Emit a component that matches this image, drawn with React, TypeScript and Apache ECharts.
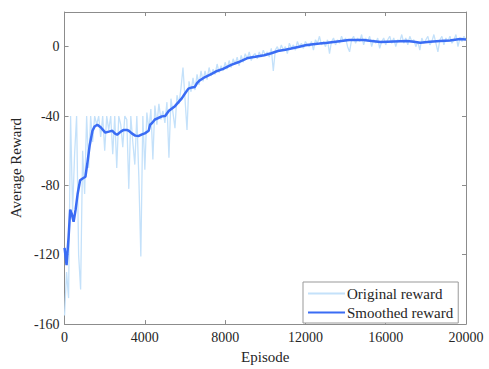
import React, { useEffect, useRef } from "react";
import * as echarts from "echarts";

const RAW_STEP = 100;
const rawReward = [
  -155, -130, -145, -40, -95, -62, -40, -120, -140, -60,
  -85, -40, -70, -40, -55, -40, -45, -40, -52, -40,
  -60, -40, -48, -40, -62, -40, -70, -40, -45, -58,
  -40, -42, -82, -40, -55, -68, -40, -75, -121, -40,
  -71, -38, -48, -36, -65, -34, -45, -33, -42, -37,
  -44, -32, -64, -30, -38, -47, -28, -33, -24, -12,
  -30, -48, -20, -26, -18, -25, -16, -22, -14, -20,
  -14, -19, -12, -17, -13, -16, -10, -15, -11, -14,
  -9, -13, -8, -12, -7, -10, -6, -11, -5, -9,
  -4, -7, -3, -8, -5, -4, -7, -3, -6, -2,
  -5, -3, -6, -1, -14, -2, 0, -3, 1, -2,
  0, -4, 2, -1, 1, -2, 3, 0, 2, -1,
  3, 1, 0, 3, -2, 4, 2, 6, 1, 3,
  0, 4, -4, 3, 5, 1, 4, 2, 6, 3,
  5, 0, -3, 4, 6, 2, 5, 3, 7, 1,
  5, 3, 6, 0, 4, 2, 5, -1, 3, 5,
  1, 4, 6, 2, 5, 0, 4, 3, 7, 2,
  5, 1, 6, 3, 4, 0, 3, -2, 5, 2,
  4, 6, 1, 3, 7, 2, -3, 4, 6, 1,
  5, 3, 6, 2, 4, 7, 0, 5, 3, 6,
  4,
];

const smoothEpisodes = [
  0, 100, 200, 280, 350, 450, 550, 650, 775, 900,
  1040, 1150, 1250, 1390, 1500, 1630, 1800, 2030, 2200, 2380,
  2500, 2620, 2800, 2950, 3100, 3200, 3350, 3520, 3700, 3860,
  4000, 4190, 4260, 4360, 4500, 4690, 4850, 5010, 5200, 5500,
  5840, 6000, 6170, 6350, 6490, 6600, 6730, 7000, 7330, 7600,
  7900, 8300, 8650, 9140, 9500, 9950, 10300, 10630, 11000, 11290,
  11700, 12000, 12280, 12700, 13100, 13600, 14170, 14900, 15300, 15740,
  16400, 17060, 17400, 17720, 18200, 18710, 19200, 19700, 20000,
];
const smoothReward = [
  -116, -126, -110, -94, -96, -101, -94, -85, -77, -76,
  -75, -66, -57, -48.5, -46, -45, -46.5, -49.6, -49, -48.5,
  -50, -50.8, -49, -48, -48, -48.5, -50, -51.3, -51.5, -50.6,
  -50, -48.5, -45, -44, -42, -41, -40.2, -40, -37, -34.3,
  -29.8, -27, -24.2, -23.5, -23.2, -21, -19.5, -17.5, -15.7, -14,
  -12.8, -10.5, -9, -6.5, -5.8, -4.9, -3.8, -2.5, -1.8, -1.1,
  0, 0.8, 1.3, 1.8, 2.3, 3.0, 3.8, 3.8, 3.3, 2.7,
  3.0, 3.3, 2.8, 2.3, 2.8, 3.3, 3.6, 4.4, 4.2,
];

const xTicks = { min: 0, max: 20000, interval: 4000 };
const yTicks = { min: -160, max: 20, interval: 40 };

const FONT = "'Liberation Serif', 'DejaVu Serif', serif";
const AXIS_COLOR = "#8c8c8c";
const TEXT_COLOR = "#262626";

export default function App() {
  const ref = useRef<HTMLDivElement>(null);
  useEffect(() => {
    if (!ref.current) return;
    const chart = echarts.init(ref.current, null, { renderer: "svg" });
    const rawData = rawReward.map((v, i) => [i * RAW_STEP, v]);
    const smoothData = smoothReward.map((v, i) => [smoothEpisodes[i], v]);
    const axisLine = { show: true, onZero: false, lineStyle: { color: AXIS_COLOR, width: 1 } };
    const axisTick = { show: true, inside: true, length: 4, lineStyle: { color: AXIS_COLOR } };
    chart.setOption({
      animation: false,
      textStyle: { fontFamily: FONT },
      grid: { left: 62, right: 23, top: 12, bottom: 39, containLabel: false },
      legend: {
        left: 303,
        top: 282,
        orient: "vertical",
        backgroundColor: "#fff",
        borderColor: "#999",
        borderWidth: 1,
        padding: [4, 5, 3, 4],
        itemGap: 4,
        itemWidth: 37,
        itemHeight: 14,
        itemStyle: { color: "rgba(0,0,0,0)", borderWidth: 0, opacity: 0 },
        textStyle: { fontFamily: FONT, fontSize: 15, color: TEXT_COLOR, padding: [0, 0, 0, -3] },
        data: ["Original reward", "Smoothed reward"],
      },
      xAxis: [
        {
          type: "value",
          position: "bottom",
          ...xTicks,
          name: "Episode",
          nameLocation: "middle",
          nameGap: 24,
          nameTextStyle: { fontFamily: FONT, fontSize: 15, color: TEXT_COLOR },
          axisLine,
          axisTick,
          splitLine: { show: false },
          axisLabel: {
            fontFamily: FONT,
            fontSize: 14,
            color: TEXT_COLOR,
            margin: 6,
            formatter: (v: number) => String(v),
          },
        },
        {
          type: "value",
          position: "top",
          ...xTicks,
          axisLine,
          axisTick,
          splitLine: { show: false },
          axisLabel: { show: false },
        },
      ],
      yAxis: [
        {
          type: "value",
          position: "left",
          ...yTicks,
          name: "Average Reward",
          nameLocation: "middle",
          nameGap: 33,
          nameTextStyle: { fontFamily: FONT, fontSize: 15, color: TEXT_COLOR },
          axisLine,
          axisTick,
          splitLine: { show: false },
          axisLabel: {
            fontFamily: FONT,
            fontSize: 14,
            color: TEXT_COLOR,
            margin: 5,
            showMaxLabel: false,
            formatter: (v: number) => (v > 0 ? "" : String(v)),
          },
        },
        {
          type: "value",
          position: "right",
          ...yTicks,
          axisLine,
          axisTick,
          splitLine: { show: false },
          axisLabel: { show: false },
        },
      ],
      series: [
        {
          name: "Original reward",
          type: "line",
          data: rawData,
          symbol: "none",
          showSymbol: false,
          lineStyle: { color: "#c4e1fa", width: 1.3 },
          itemStyle: { color: "#c4e1fa" },
          z: 1,
        },
        {
          name: "Smoothed reward",
          type: "line",
          data: smoothData,
          symbol: "none",
          showSymbol: false,
          lineStyle: { color: "#3a6cf4", width: 2.5 },
          itemStyle: { color: "#3a6cf4" },
          z: 2,
        },
      ],
    });
    return () => chart.dispose();
  }, []);
  return (
    <div
      ref={ref}
      style={{ position: "absolute", left: 0, top: 0, width: 489, height: 369 }}
    />
  );
}
